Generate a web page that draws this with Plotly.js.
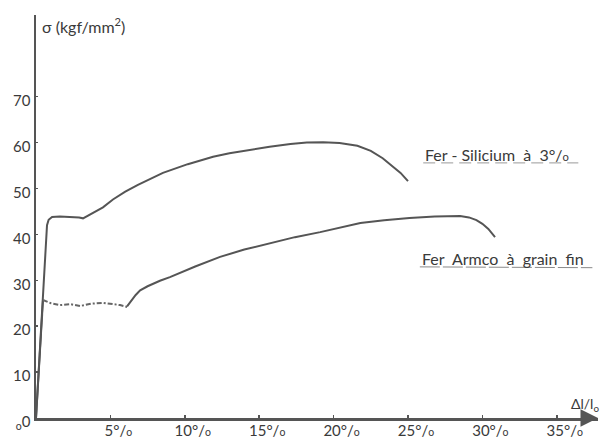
<!DOCTYPE html>
<html>
<head>
<meta charset="utf-8">
<script src="https://cdn.plot.ly/plotly-3.0.1.min.js"></script>
<style>html,body{margin:0;padding:0;background:#fff;}#chart{width:603px;height:441px;}</style>
</head>
<body>
<div id="chart"></div>
<script>
// ---- Data ----
// Fer-Silicium à 3 % : strain (%) and stress (kgf/mm²)
const siStrain = [0, 0.74, 0.85, 1.08, 1.6, 2.28, 2.9, 3.16, 3.8, 4.5, 5.17, 6.0, 6.85, 7.7, 8.53, 10.2, 11.9, 13.0, 14.4, 15.7, 17.1, 18.2, 19.3, 20.4, 21.6, 22.5, 23.3, 24.0, 24.5, 25.0];
const siStress = [0, 42.0, 43.2, 43.8, 43.9, 43.8, 43.7, 43.5, 44.6, 45.9, 47.6, 49.3, 50.8, 52.2, 53.4, 55.3, 56.9, 57.7, 58.5, 59.1, 59.7, 60.0, 60.1, 59.9, 59.3, 58.2, 56.6, 54.8, 53.4, 51.6];

// Fer Armco à grain fin : elastic part, Lüders plateau, hardening part
const armcoElasticStrain = [0, 0.47];
const armcoElasticStress = [0, 25.7];
const armcoPlateauStrain = [0.47, 1.0, 1.61, 2.3, 2.96, 3.7, 4.5, 5.1, 5.65, 6.12];
const armcoPlateauStress = [25.7, 25.0, 24.6, 24.8, 24.4, 24.9, 25.1, 24.9, 24.6, 24.2];
const armcoStrain = [6.12, 6.4, 6.7, 7.0, 7.5, 8.33, 9.0, 10.7, 12.37, 14.0, 15.7, 17.4, 19.1, 20.5, 21.8, 23.4, 25.1, 26.8, 28.5, 29.1, 29.6, 30.0, 30.4, 30.85];
const armcoStress = [24.3, 25.6, 26.8, 27.8, 28.7, 29.9, 30.7, 33.0, 35.1, 36.7, 38.1, 39.4, 40.5, 41.5, 42.5, 43.1, 43.6, 43.9, 44.0, 43.7, 43.1, 42.3, 41.2, 39.4];

// Tick labels
const smallO = '<span style="font-size:70%">o</span>';
const xTickVals = [5, 10, 15, 20, 25, 30, 35];
const xTickText = xTickVals.map(v => v + '°/' + smallO);
const yTickVals = [0, 10, 20, 30, 40, 50, 60, 70];
const yTickText = ['<sub>o</sub>0', '10', '20', '30', '40', '50', '60', '70'];

// Labels
const yAxisLabel = 'σ (kgf/mm<sup>2</sup>)';
const xAxisLabel = 'Δl/l<sub>o</sub>';
const siLabel = 'Fer - Silicium  à  3°/' + smallO;
const armcoLabel = 'Fer  Armco  à  grain  fin';

const lineColor = '#555555';
const FONT = 'Lato, "Liberation Sans", sans-serif';

const traces = [
  {x: siStrain, y: siStress, mode: 'lines', line: {color: lineColor, width: 2}, name: siLabel},
  {x: armcoElasticStrain, y: armcoElasticStress, mode: 'lines', line: {color: lineColor, width: 2}, name: armcoLabel},
  {x: armcoPlateauStrain, y: armcoPlateauStress, mode: 'lines', line: {color: '#666666', width: 2, dash: '5px,2px,2px,2px'}, name: armcoLabel},
  {x: armcoStrain, y: armcoStress, mode: 'lines', line: {color: lineColor, width: 2}, name: armcoLabel}
];

const layout = {
  width: 603, height: 441,
  margin: {l: 36, r: 5, t: 15, b: 23},
  paper_bgcolor: '#ffffff', plot_bgcolor: '#ffffff',
  showlegend: false,
  font: {family: FONT, color: '#3a3a3a', size: 15},
  xaxis: {
    range: [0, 37.77], showgrid: false, zeroline: false,
    showline: true, linecolor: '#555', linewidth: 2.5,
    ticks: 'inside', ticklen: 3, tickcolor: '#555', tickwidth: 1.5,
    tickvals: xTickVals, ticktext: xTickText,
    tickfont: {family: FONT, size: 15, color: '#3a3a3a'},
    ticklabelshift: 8, ticklabelstandoff: -3
  },
  yaxis: {
    range: [0, 87.8], showgrid: false, zeroline: false,
    showline: true, linecolor: '#555', linewidth: 2.5,
    ticks: 'inside', ticklen: 2, tickcolor: '#555', tickwidth: 1.5,
    tickvals: yTickVals, ticktext: yTickText,
    tickfont: {family: FONT, size: 15, color: '#3a3a3a'},
    ticklabelshift: 4, ticklabelstandoff: 0
  },
  annotations: [
    {xref: 'paper', yref: 'paper', x: 0, y: 1.0, ax: 0, ay: 14, axref: 'pixel', ayref: 'pixel',
     showarrow: true, arrowhead: 2, arrowsize: 1.4, arrowwidth: 2.5, arrowcolor: '#555', text: ' '},
    {xref: 'paper', yref: 'paper', x: 1.0, y: 0, ax: -14, ay: 0, axref: 'pixel', ayref: 'pixel',
     showarrow: true, arrowhead: 2, arrowsize: 1.4, arrowwidth: 2.5, arrowcolor: '#555', text: ' '},
    {xref: 'paper', yref: 'paper', x: 0.008, y: 0.975, xanchor: 'left', yanchor: 'middle', showarrow: false,
     text: yAxisLabel, font: {family: FONT, size: 16, color: '#3a3a3a'}},
    {xref: 'paper', yref: 'paper', x: 1.006, y: 0.034, xanchor: 'right', yanchor: 'middle', showarrow: false,
     text: xAxisLabel, font: {family: FONT, size: 14, color: '#3a3a3a'}},
    {xref: 'paper', yref: 'paper', x: 0.689, y: 0.655, xanchor: 'left', yanchor: 'middle', showarrow: false,
     text: siLabel, font: {family: FONT, size: 16, color: '#3a3a3a'}},
    {xref: 'paper', yref: 'paper', x: 0.683, y: 0.397, xanchor: 'left', yanchor: 'middle', showarrow: false,
     text: armcoLabel, font: {family: FONT, size: 16, color: '#3a3a3a'}}
  ],
  shapes: [
    {type: 'line', xref: 'paper', yref: 'paper', x0: 0.689, x1: 0.965, y0: 0.633, y1: 0.633,
     line: {color: '#9a9a9a', width: 1, dash: '12px,6px'}},
    {type: 'line', xref: 'paper', yref: 'paper', x0: 0.683, x1: 0.99, y0: 0.375, y1: 0.373,
     line: {color: '#8a8a8a', width: 1, dash: '20px,3px'}}
  ]
};

Plotly.newPlot('chart', traces, layout, {displayModeBar: false, staticPlot: true});
</script>
</body>
</html>
